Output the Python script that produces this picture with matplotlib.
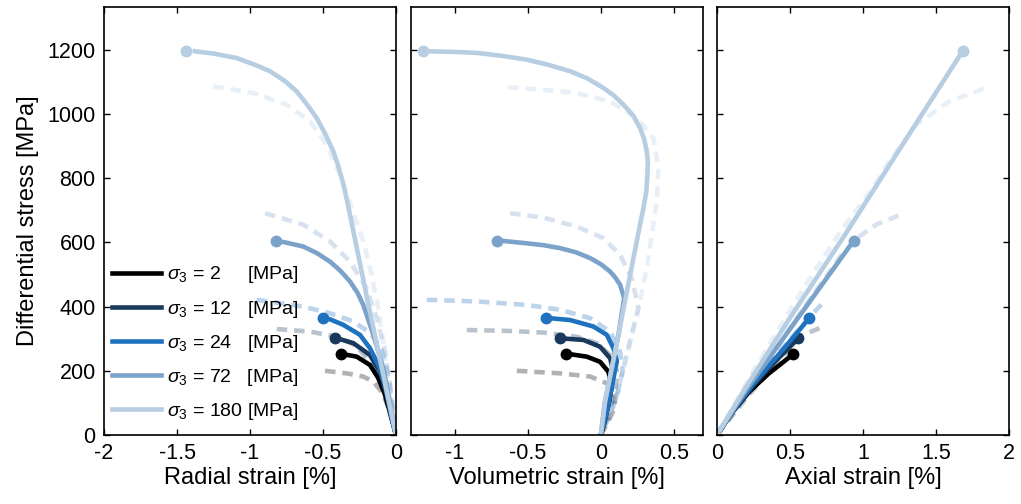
import numpy as np
import matplotlib
matplotlib.use("Agg")
import matplotlib.pyplot as plt

plt.rcParams['font.family'] = ['Liberation Sans', 'DejaVu Sans']
plt.rcParams['mathtext.fontset'] = 'custom'
plt.rcParams['mathtext.rm'] = 'Liberation Sans'
plt.rcParams['mathtext.it'] = 'Liberation Sans:italic'

sigma3 = [2, 12, 24, 72, 180]
colors = ['#000000', '#193a5c', '#1f72c0', '#7ba2c9', '#b6cde2']

# peak points (markers)
peak_stress = [252, 301, 364, 605, 1196]
peak_rad = [-0.377, -0.418, -0.498, -0.822, -1.44]
peak_vol = [-0.238, -0.279, -0.375, -0.712, -1.215]
peak_ax = [0.523, 0.557, 0.632, 0.936, 1.683]

# model curves (solid) - radial strain
rad_x = [[-0.377, -0.34, -0.269, -0.178, -0.121, -0.075, -0.035, 0],
         [-0.418, -0.38, -0.292, -0.178, -0.110, -0.064, -0.03, 0],
         [-0.498, -0.45, -0.361, -0.247, -0.178, -0.121, -0.075, -0.03, 0],
         [-0.822, -0.76, -0.635, -0.54, -0.452, -0.38, -0.315, -0.265, -0.224,
          -0.155, -0.087, -0.04, 0],
         [-1.377, -1.25, -1.091, -0.96, -0.863, -0.76, -0.68, -0.61, -0.543, -0.485,
          -0.429, -0.39, -0.36, -0.334, -0.31, -0.2, -0.1, 0]]
rad_y = [[252, 250, 244, 218, 177, 125, 60, 0],
         [301, 298, 286, 249, 197, 125, 60, 0],
         [364, 360, 343, 312, 270, 218, 156, 53, 0],
         [605, 600, 587, 566, 540, 511, 478, 444, 405, 312, 208, 100, 0],
         [1195, 1188, 1174, 1152, 1133, 1102, 1070, 1030, 987, 938, 883, 830, 780,
          727, 675, 430, 215, 0]]

# experimental curves (dashed) - radial strain
rad_x_exp = [[-0.486, -0.338, -0.224, -0.155, -0.09, -0.04, 0],
             [-0.817, -0.589, -0.406, -0.28, -0.16, -0.08, 0],
             [-0.954, -0.635, -0.452, -0.30, -0.18, -0.10, -0.05, 0],
             [-0.897, -0.635, -0.452, -0.315, -0.201, -0.132, -0.075, -0.041, 0],
             [-1.251, -0.977, -0.749, -0.589, -0.475, -0.384, -0.304, -0.224,
              -0.167, -0.121, -0.087, -0.053, 0]]
rad_y_exp = [[200, 192, 182, 166, 130, 70, 0],
             [330, 322, 306, 280, 220, 130, 0],
             [421, 400, 379, 355, 320, 270, 180, 0],
             [691, 655, 603, 540, 457, 364, 260, 156, 0],
             [1086, 1065, 1029, 977, 904, 810, 707, 603, 499, 395, 291, 156, 0]]

# model curves (solid) - volumetric strain
vol_x = [[-0.238, -0.20, -0.096, -0.005, 0.052, 0.075, 0.06, 0.04, 0.02, 0],
         [-0.279, -0.24, -0.119, -0.005, 0.064, 0.087, 0.075, 0.05, 0.02, 0],
         [-0.375, -0.33, -0.210, -0.051, 0.041, 0.087, 0.11, 0.075, 0.04, 0],
         [-0.712, -0.66, -0.507, -0.39, -0.279, -0.17, -0.073, 0.0, 0.064, 0.10,
          0.132, 0.160, 0.121, 0.075, 0.029, 0],
         [-1.215, -1.18, -1.0, -0.849, -0.68, -0.507, -0.36, -0.210, -0.09, 0.018,
          0.09, 0.155, 0.222, 0.269, 0.298, 0.315, 0.322, 0.319, 0.312, 0.292,
          0.246, 0.201, 0.166, 0.121, 0.075, 0.029, 0]]
vol_y = [[252, 251, 244, 228, 197, 156, 110, 70, 30, 0],
         [301, 300, 296, 275, 239, 197, 150, 90, 40, 0],
         [364, 363, 358, 338, 312, 270, 230, 150, 70, 0],
         [605, 604, 597, 591, 582, 569, 551, 532, 509, 490, 468, 426, 312, 208,
          104, 0],
         [1195, 1195, 1193, 1190, 1181, 1169, 1153, 1133, 1110, 1081, 1057, 1029,
          995, 956, 920, 883, 850, 810, 760, 707, 603, 499, 416, 312, 208, 104, 0]]

# experimental curves (dashed) - volumetric strain
vol_x_exp = [[-0.575, -0.279, -0.073, 0.041, 0.10, 0.09, 0.05, 0],
             [-0.918, -0.621, -0.393, -0.164, -0.027, 0.064, 0.11, 0.10, 0.06, 0],
             [-1.192, -0.849, -0.507, -0.279, -0.073, 0.064, 0.132, 0.15, 0.11, 0.06, 0],
             [-0.621, -0.393, -0.164, 0.018, 0.132, 0.212, 0.258, 0.212, 0.155,
              0.098, 0],
             [-0.633, -0.393, -0.164, 0.064, 0.246, 0.360, 0.395, 0.383, 0.349,
              0.315, 0.269, 0.212, 0.155, 0.098, 0]]
vol_y_exp = [[200, 192, 182, 161, 125, 80, 40, 0],
             [327, 324, 319, 306, 286, 249, 200, 140, 70, 0],
             [421, 416, 405, 390, 364, 322, 260, 200, 120, 60, 0],
             [691, 677, 649, 613, 561, 488, 395, 312, 208, 104, 0],
             [1083, 1075, 1065, 1039, 987, 925, 831, 727, 623, 520, 416, 312,
              208, 104, 0]]

# model curves (solid) - axial strain
ax_x = [[0, 0.10, 0.221, 0.35, 0.523],
        [0, 0.10, 0.24, 0.40, 0.557],
        [0, 0.10, 0.25, 0.45, 0.632],
        [0, 0.20, 0.50, 0.936],
        [0, 0.20, 0.50, 0.876, 1.30, 1.683]]
ax_y = [[0, 68, 135, 190, 252],
        [0, 68, 150, 230, 301],
        [0, 70, 160, 265, 364],
        [0, 140, 330, 605],
        [0, 150, 365, 623, 925, 1196]]

# experimental curves (dashed) - axial strain
ax_x_exp = [[0, 0.10, 0.221, 0.35],
            [0, 0.20, 0.40, 0.587, 0.705],
            [0, 0.20, 0.40, 0.60, 0.735],
            [0, 0.30, 0.60, 0.85, 0.98, 1.089, 1.283],
            [0, 0.25, 0.564, 0.84, 1.066, 1.18, 1.363, 1.591, 1.842]]
ax_y_exp = [[0, 68, 135, 190],
            [0, 115, 220, 312, 333],
            [0, 125, 245, 350, 416],
            [0, 200, 400, 560, 620, 655, 691],
            [0, 200, 436, 630, 769, 852, 966, 1039, 1081]]

fig = plt.figure(figsize=(10.21, 5.04), dpi=100)
W, H = 1021, 504
lefts = [104, 411, 717]
axes = [fig.add_axes([l / W, 1 - 435 / H, 292 / W, 428 / H]) for l in lefts]

panels = [(rad_x, rad_y, rad_x_exp, rad_y_exp, peak_rad),
          (vol_x, vol_y, vol_x_exp, vol_y_exp, peak_vol),
          (ax_x, ax_y, ax_x_exp, ax_y_exp, peak_ax)]

handles = []
for k, (ax, (mx, my, ex, ey, px)) in enumerate(zip(axes, panels)):
    for i in range(5):
        ax.plot(ex[i], ey[i], '--', color=colors[i], alpha=0.3, lw=3.3,
                dashes=(2.3, 1.5), dash_capstyle='butt')
    for i in range(5):
        l, = ax.plot(mx[i], my[i], '-', color=colors[i], lw=3.3,
                     solid_joinstyle='round')
        ax.plot(px[i], peak_stress[i], 'o', color=colors[i], ms=7.5)
        if k == 0:
            handles.append(l)

    ax.set_ylim(0, 1333)
    ax.set_yticks(np.arange(0, 1201, 200))
    ax.tick_params(direction='in', length=4.5, width=1, top=True, right=True,
                   labelsize=15.5, pad=6)
    for s in ax.spines.values():
        s.set_linewidth(1.2)

axes[0].set_xlim(-2, 0)
axes[0].set_xticks([-2, -1.5, -1, -0.5, 0])
axes[0].set_xticklabels(['-2', '-1.5', '-1', '-0.5', '0'])
axes[1].set_xlim(-1.3, 0.7)
axes[1].set_xticks([-1, -0.5, 0, 0.5])
axes[1].set_xticklabels(['-1', '-0.5', '0', '0.5'])
axes[2].set_xlim(0, 2)
axes[2].set_xticks([0, 0.5, 1, 1.5, 2])
axes[2].set_xticklabels(['0', '0.5', '1', '1.5', '2'])
axes[1].set_yticklabels([])
axes[2].set_yticklabels([])

axes[0].set_ylabel('Differential stress [MPa]', fontsize=17, labelpad=6)
axes[0].set_xlabel('Radial strain [%]', fontsize=17, labelpad=2)
axes[1].set_xlabel('Volumetric strain [%]', fontsize=17, labelpad=2)
axes[2].set_xlabel('Axial strain [%]', fontsize=17, labelpad=2)

# legend with aligned units
labels = [r'$\sigma_3$ = 2     [MPa]', r'$\sigma_3$ = 12   [MPa]',
          r'$\sigma_3$ = 24   [MPa]', r'$\sigma_3$ = 72   [MPa]',
          r'$\sigma_3$ = 180 [MPa]']
axes[0].legend(handles, labels, loc='lower left', bbox_to_anchor=(-0.02, -0.002),
               frameon=False, fontsize=14, handlelength=2.55, handletextpad=0.28,
               labelspacing=0.68, borderpad=0.2)

fig.savefig('out.png', dpi=100)
